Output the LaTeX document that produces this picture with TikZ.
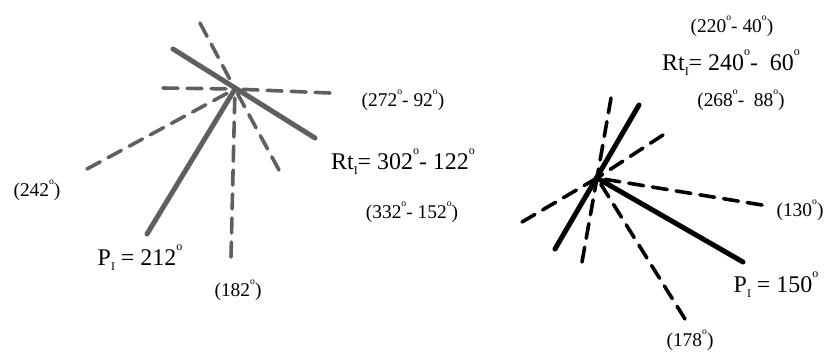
\documentclass[tikz,border=0pt]{standalone}
\usepackage{fontspec}
\setmainfont{Liberation Serif}
\usepackage{xcolor}
\usetikzlibrary{positioning}

\definecolor{raygray}{RGB}{95,95,95}
\newcommand{\dg}{\raisebox{0.62em}{\scalebox{0.5}{o}}}
\newcommand{\subI}{\raisebox{-0.22em}{\scalebox{0.5}{I}}}

\begin{document}
\begin{tikzpicture}[
      x=1bp, y=-1bp,
      solidray/.style={line width=5bp, line cap=round},
      dashray/.style={line width=3.6bp, line cap=round, dash pattern=on 15bp off 9bp},
      small/.style={font=\fontsize{19.5}{21}\selectfont, inner sep=0pt},
      big/.style={font=\fontsize{24}{27}\selectfont, inner sep=0pt}
    ]
      \useasboundingbox (0,0) rectangle (827,353);

      % left rose
      \coordinate (lc) at (235,89);
      \coordinate (la1) at (200,23);  \coordinate (la2) at (279,170);
      \coordinate (lb1) at (173,49);  \coordinate (lb2) at (315,138);
      \coordinate (ld1) at (163,88);  \coordinate (ld2) at (330,93);
      \coordinate (le) at (87,169);
      \coordinate (lp) at (147,234);
      \coordinate (lf) at (231,257);
      \begin{scope}[draw=raygray]
        \foreach \e in {la1,la2,ld1,ld2,le,lf}
          \draw[dashray] (\e) -- (lc);
        \draw[solidray] (lb1) -- (lb2);
        \draw[solidray] (lp) -- (lc);
      \end{scope}

      \node[small] (l272) at (403,100) {(272\dg- 92\dg)};
      \node[big] (lrt) at (403,162) {Rt\subI= 302\dg- 122\dg};
      \node[small] (l332) at (412,212) {(332\dg- 152\dg)};
      \node[small] (l242) at (37,190) {(242\dg)};
      \node[big] (lpi) at (140,258) {P\subI\ = 212\dg};
      \node[small] (l182) at (238,290) {(182\dg)};

      % right rose
      \coordinate (rc) at (597,178);
      \coordinate (ra1) at (611,98);  \coordinate (ra2) at (582,262);
      \coordinate (rb1) at (639,105); \coordinate (rb2) at (555,249);
      \coordinate (rd1) at (663,135); \coordinate (rd2) at (522,222);
      \coordinate (re) at (762,205);
      \coordinate (rp) at (743,262);
      \coordinate (rf) at (685,319);
      \foreach \e in {ra1,ra2,rd1,rd2,re,rf}
        \draw[dashray] (\e) -- (rc);
      \draw[solidray] (rb1) -- (rb2);
      \draw[solidray] (rc) -- (rp);

      \node[small] (r220) at (732,26) {(220\dg- 40\dg)};
      \node[big] (rrt) at (731,63) {Rt\subI= 240\dg-\ \ 60\dg};
      \node[small] (r268) at (741,100) {(268\dg-\ \ 88\dg)};
      \node[small] (r130) at (800,210) {(130\dg)};
      \node[big] (rpi) at (776,285) {P\subI\ = 150\dg};
      \node[small] (r178) at (690,340) {(178\dg)};
    \end{tikzpicture}
\end{document}
